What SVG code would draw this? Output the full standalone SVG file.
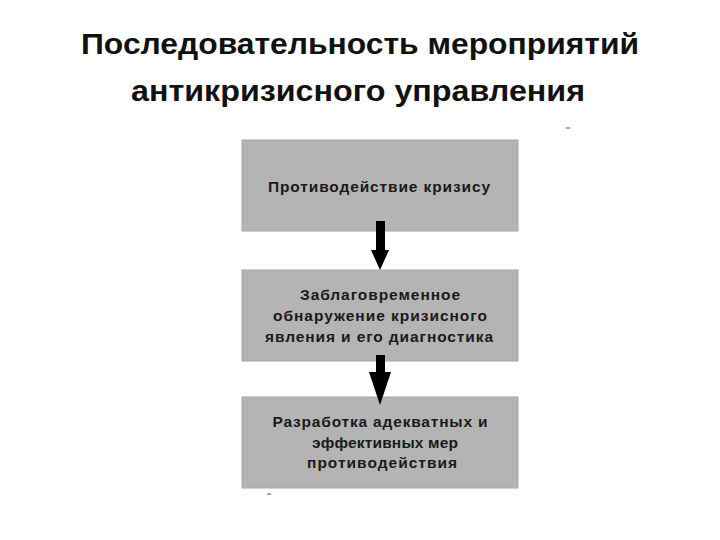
<svg xmlns="http://www.w3.org/2000/svg" width="720" height="540" viewBox="0 0 720 540">
<style>
.title{font-family:"Liberation Sans",Arial,sans-serif;font-weight:bold;font-size:30px;fill:#111;text-anchor:middle}
.box{fill:#b4b4b4;stroke:#a8a8a8;stroke-width:1}
.lbl{font-family:"Liberation Sans",Arial,sans-serif;font-weight:bold;font-size:15.5px;fill:#1a1a1a;text-anchor:middle}
.arr{fill:#000}
.tick{stroke:#555;stroke-width:1}
</style>
<rect width="720" height="540" fill="#fff"/>
<text class="title" x="360" y="54" textLength="558" lengthAdjust="spacingAndGlyphs">Последовательность мероприятий</text>
<text class="title" x="358" y="101" textLength="454" lengthAdjust="spacingAndGlyphs">антикризисного управления</text>
<line class="tick" x1="566" y1="128" x2="570" y2="128"/>
<line class="tick" x1="267" y1="494" x2="271" y2="494"/>
<g id="node1">
<rect class="box" x="242" y="140" width="276" height="91"/>
<text class="lbl" x="379" y="192" textLength="222" lengthAdjust="spacing">Противодействие кризису</text>
</g>
<g id="node2">
<rect class="box" x="242" y="270" width="276" height="91"/>
<text class="lbl" x="380" y="300" textLength="160" lengthAdjust="spacing">Заблаговременное</text>
<text class="lbl" x="380" y="321" textLength="214" lengthAdjust="spacing">обнаружение кризисного</text>
<text class="lbl" x="379" y="342" textLength="228" lengthAdjust="spacing">явления и его диагностика</text>
</g>
<g id="node3">
<rect class="box" x="242" y="397" width="276" height="91"/>
<text class="lbl" x="380" y="427" textLength="215" lengthAdjust="spacing">Разработка адекватных и</text>
<text class="lbl" x="385" y="448" textLength="146" lengthAdjust="spacing">эффективных мер</text>
<text class="lbl" x="382" y="468" textLength="150" lengthAdjust="spacing">противодействия</text>
</g>
<g id="connectors">
<polygon class="arr" points="376,221 385,221 385,250 389,250 380,270 371,250 376,250"/>
<polygon class="arr" points="376,355 385,355 385,372 391,372 380,405 369,372 376,372"/>
</g>
</svg>
